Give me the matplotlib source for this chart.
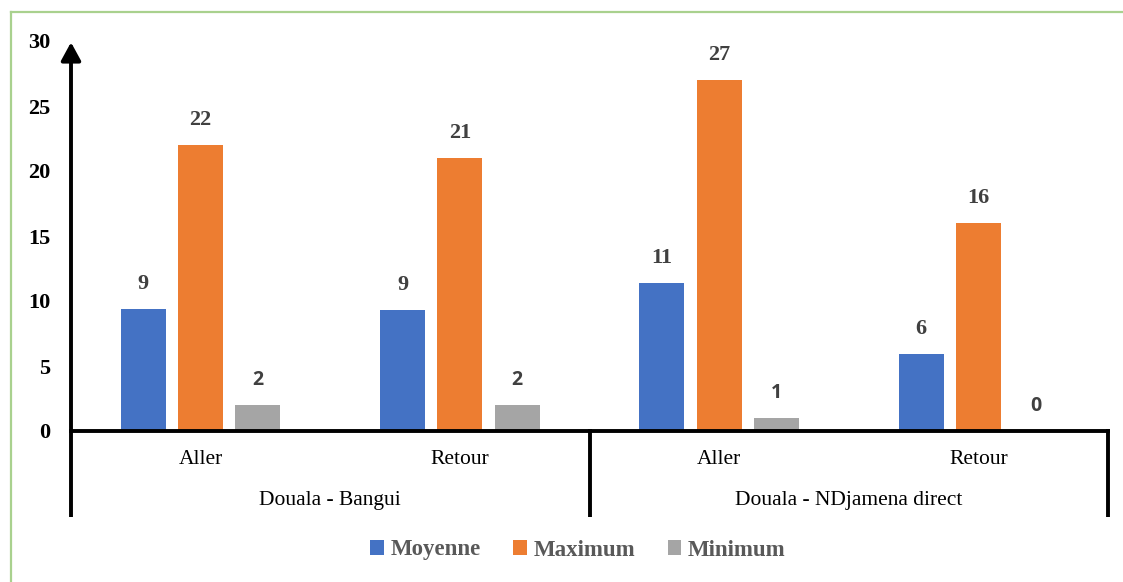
import numpy as np
import matplotlib.pyplot as plt
from matplotlib.patches import Patch
from matplotlib.lines import Line2D

# data
routes = ['Douala - Bangui', 'Douala - NDjamena direct']
trips = ['Aller', 'Retour', 'Aller', 'Retour']
series = ['Moyenne', 'Maximum', 'Minimum']
moyenne = [9.4, 9.3, 11.4, 5.9]
maximum = [22, 21, 27, 16]
minimum = [2, 2, 1, 0]
colors = ['#4472C4', '#ED7D31', '#A5A5A5']

serif = 'Liberation Serif'
txt_col = '#404040'

fig = plt.figure(figsize=(11.23, 5.82), dpi=100)
W, H = 1123, 582
ax = fig.add_axes([71 / W, 1 - 431 / H, (1108 - 71) / W, (431 - 41) / H])

# green frame round the chart
fig.add_artist(Line2D([11 / W, 1], [1 - 12 / H, 1 - 12 / H], color='#A9D18E', lw=1.6))
fig.add_artist(Line2D([11 / W, 11 / W], [0, 1 - 12 / H], color='#A9D18E', lw=1.6))

x = np.arange(len(trips)) + 0.5
bw = 0.173
off = 0.221
for k, (vals, c) in enumerate(zip([moyenne, maximum, minimum], colors)):
    xs = x + (k - 1) * off
    ax.bar(xs, vals, width=bw, color=c, zorder=2)
    for xi, v in zip(xs, vals):
        if k < 2:
            ax.annotate(f'{v:.0f}', (xi, v), xytext=(0, 18), textcoords='offset points',
                        ha='center', va='center', fontsize=16, fontweight='bold',
                        family=serif, color=txt_col)
        else:
            ax.annotate(f'{v:.0f}', (xi, v), xytext=(0, 18), textcoords='offset points',
                        ha='center', va='center', fontsize=14, fontweight='bold',
                        family='Open Sans', color=txt_col)

ax.set_xlim(0, 4)
ax.set_ylim(0, 30)
ax.set_yticks(np.arange(0, 31, 5))
ax.set_yticklabels([str(v) for v in range(0, 31, 5)], family=serif, fontsize=16,
                   fontweight='bold', color='black')
ax.tick_params(axis='y', length=0, pad=15)
ax.set_xticks([])

for s in ['top', 'right', 'left']:
    ax.spines[s].set_visible(False)
ax.spines['bottom'].set_linewidth(2.8)

# y axis with arrow head
ax.annotate('', xy=(0, 29.9), xycoords='data', xytext=(0, 0), textcoords='data',
            arrowprops=dict(arrowstyle='-|>,head_length=0.55,head_width=0.3', lw=2.8,
                            color='black', mutation_scale=20, shrinkA=0, shrinkB=0),
            annotation_clip=False)

# lines below the axis (left, divider, right)
y_low = -(517 - 431) / 390
trans = ax.get_xaxis_transform()
for xv in [0, 2, 4]:
    ax.plot([xv, xv], [0.004, y_low], color='black', lw=2.8, transform=trans,
            clip_on=False, solid_capstyle='butt')

# category labels
for xi, t in zip(x, trips):
    ax.text(xi, -(460 - 431) / 390, t, transform=trans, ha='center', va='center',
            family=serif, fontsize=15.5, color='black')
for i, r in enumerate(routes):
    ax.text(2 * i + 1, -(501 - 431) / 390, r, transform=trans, ha='center', va='center',
            family=serif, fontsize=15.5, color='black')

handles = [Patch(facecolor=c, edgecolor='none') for c in colors]
fig.legend(handles, series, loc='center', bbox_to_anchor=(578 / W, 1 - 550 / H), ncol=3,
           frameon=False, handlelength=0.6, handleheight=0.6, handletextpad=0.3,
           columnspacing=1.4, prop={'family': serif, 'weight': 'bold', 'size': 16.5},
           labelcolor='#595959')

fig.savefig('out.png', dpi=100)
